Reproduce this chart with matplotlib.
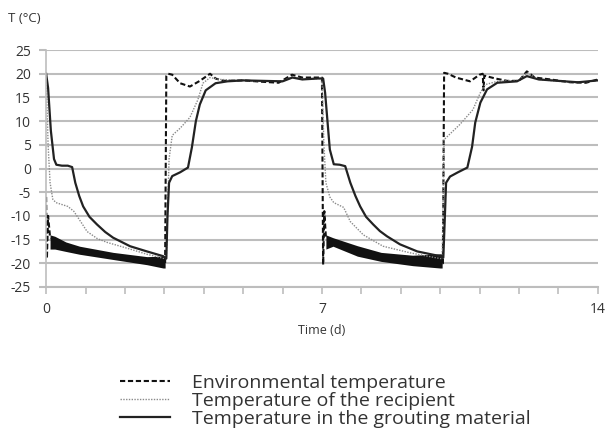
import matplotlib
matplotlib.use("Agg")
import matplotlib.pyplot as plt
import numpy as np

plt.rcParams['font.family'] = ['Open Sans', 'DejaVu Sans']
plt.rcParams['axes.unicode_minus'] = False

# time in days, temperatures in degC
env_t = [0, 0.02, 0.05, 0.1, 0.3, 0.6, 1.0, 1.7, 2.5, 3.0, 3.02, 3.05, 3.1, 3.2, 3.4, 3.65,
         3.9, 4.16, 4.3, 4.5, 5.0, 5.5, 5.9, 6.24, 6.5, 7.0, 7.03, 7.06, 7.1, 7.3, 7.6, 8.0,
         8.6, 9.2, 10.0, 10.07, 10.1, 10.2, 10.4, 10.76, 11.0, 11.08, 11.1, 11.12, 11.4,
         11.7, 12.0, 12.2, 12.4, 12.8, 13.3, 13.7, 14.0]
env_T = [-6, -19, -10, -14.5, -15.5, -16.8, -17.5, -18.3, -19.2, -19.8, -20, 19.5, 20, 19.8,
         18, 17.3, 18.5, 20, 19, 18.5, 18.6, 18.3, 18.1, 19.8, 19.2, 19.2, -20.3, -9, -14.5,
         -15.5, -16.5, -17.8, -18.8, -19.3, -19.8, -20, 20.2, 20, 19.2, 18.4, 19.8, 20, 16.5,
         19.6, 19, 18.5, 18.5, 20.5, 19.2, 18.8, 18.2, 18.1, 18.8]

# noisy spread of the environmental record during the cold phases
band1_t = [0.1, 0.22, 0.5, 0.85, 1.7, 2.56, 2.97, 3.02]
band1_lo = [-17, -17, -17.5, -18.1, -19.2, -20.3, -21, -21]
band1_hi = [-14, -14.3, -15.5, -16.4, -17.7, -18.6, -18.5, -18.5]
band2_t = [7.1, 7.28, 7.9, 8.5, 9.3, 10.0, 10.05]
band2_lo = [-17, -16.4, -18.5, -19.6, -20.5, -21, -21]
band2_hi = [-14, -14.6, -16.3, -17.7, -18.3, -18, -18]

rec_t = [0, 0.05, 0.1, 0.17, 0.25, 0.4, 0.55, 0.7, 0.9, 1.04, 1.3, 1.55, 2.13, 2.56, 3.0,
         3.05, 3.12, 3.2, 3.4, 3.65, 3.85, 3.98, 4.16, 4.4, 5.0, 5.5, 6.0, 6.25, 6.5, 6.95,
         7.0, 7.05, 7.1, 7.2, 7.3, 7.45, 7.55, 7.72, 8.05, 8.55, 9.24, 10.0, 10.05, 10.1,
         10.5, 10.83, 11.02, 11.14, 11.45, 12.0, 12.2, 12.5, 13.0, 13.5, 14.0]
rec_T = [20, 5, -3, -6.5, -7.2, -7.6, -8, -9, -11.5, -13.3, -14.8, -15.6, -17, -18.1, -19,
         -19, 2, 7, 8.5, 10.8, 14.5, 18, 19.2, 18.8, 18.6, 18.4, 18.4, 19.4, 18.8, 19,
         19, 5, -3, -6, -7.2, -7.8, -8.2, -11.2, -14, -16.4, -17.8, -19, -19, 6.1,
         9.3, 12.4, 16, 17.7, 18.4, 18.6, 20.2, 18.8, 18.4, 18.1, 18.6]

grout_t = [0, 0.05, 0.12, 0.2, 0.26, 0.4, 0.55, 0.66, 0.74, 0.84, 0.94, 1.1, 1.29, 1.5,
           1.70, 2.13, 2.56, 2.97, 3.05, 3.08, 3.12, 3.2, 3.4, 3.6, 3.7, 3.8, 3.9, 4.05,
           4.3, 4.6, 5.0, 5.5, 6.0, 6.25, 6.5, 6.9, 7.03, 7.08, 7.2, 7.3, 7.45, 7.59, 7.72,
           7.85, 7.97, 8.12, 8.30, 8.47, 8.65, 8.98, 9.42, 10.0, 10.08, 10.12, 10.15, 10.25,
           10.45, 10.69, 10.81, 10.89, 11.02, 11.19, 11.45, 11.95, 12.2, 12.5, 13.0, 13.5,
           14.0]
grout_T = [20, 17, 8, 2, 0.8, 0.6, 0.6, 0.3, -3, -5.8, -8, -10.2, -11.8, -13.4,
           -14.6, -16.4, -17.5, -18.5, -19, -10, -3, -1.6, -0.8, 0.2, 4.5, 10, 13.5, 16.5,
           18, 18.4, 18.6, 18.5, 18.4, 19.2, 18.8, 19.0, 19.0, 16, 4, 0.9, 0.8, 0.5, -3,
           -5.8, -8, -10.2, -11.8, -13.2, -14.3, -16, -17.5, -18.5, -18.8, -10, -3, -1.7,
           -0.8, 0.2, 4.6, 9.7, 13.9, 16.7, 18.1, 18.4, 19.5, 18.8, 18.5, 18.2, 18.6]

labels = ["Environmental temperature", "Temperature of the recipient",
          "Temperature in the grouting material"]

fig = plt.figure(figsize=(6.15, 4.47), dpi=100)
ax = fig.add_axes([0.075, 0.358, 0.897, 0.530])

grid_c = "#bdbdbd"
txt_c = "#333333"

ax.fill_between(band1_t, band1_lo, band1_hi, color="#111111", lw=0)
ax.fill_between(band2_t, band2_lo, band2_hi, color="#111111", lw=0)
l1, = ax.plot(env_t, env_T, color="#111111", lw=1.5, linestyle=(0, (2.5, 1.3)))
l2, = ax.plot(rec_t, rec_T, color="#8a8a8a", lw=1.0, linestyle=(0, (1, 1)))
l3, = ax.plot(grout_t, grout_T, color="#222222", lw=1.6)

ax.set_xlim(0, 14)
ax.set_ylim(-25, 25)
ax.set_yticks(np.arange(-25, 26, 5))
ax.set_xticks([0, 7, 14])
ax.set_xticks(np.arange(0, 15, 1), minor=True)
ax.yaxis.grid(True, color=grid_c, lw=1.5)
ax.set_axisbelow(True)
for s in ["top", "right"]:
    ax.spines[s].set_visible(False)
ax.spines["left"].set_color(grid_c)
ax.spines["bottom"].set_color(grid_c)
ax.spines["left"].set_linewidth(1.2)
ax.spines["bottom"].set_linewidth(1.5)
ax.tick_params(axis="y", length=5, color=grid_c, width=1.5, labelsize=10,
               labelcolor=txt_c, pad=6)
ax.tick_params(axis="x", which="both", length=5, color=grid_c, width=1.2,
               labelsize=10, labelcolor=txt_c, pad=6)

ax.set_xlabel("Time (d)", fontsize=9, color=txt_c, labelpad=5)
fig.text(0.013, 1 - 18 / 447, "T (°C)", fontsize=9.5, color=txt_c, va="center")

ax.legend([l1, l2, l3], labels, loc="upper left", bbox_to_anchor=(0.195, 0.164),
          bbox_transform=fig.transFigure, frameon=False, fontsize=14,
          handlelength=2.6, handletextpad=1.1, labelspacing=0.0, borderpad=0,
          borderaxespad=0, labelcolor=txt_c)

fig.savefig("out.png", dpi=100)
